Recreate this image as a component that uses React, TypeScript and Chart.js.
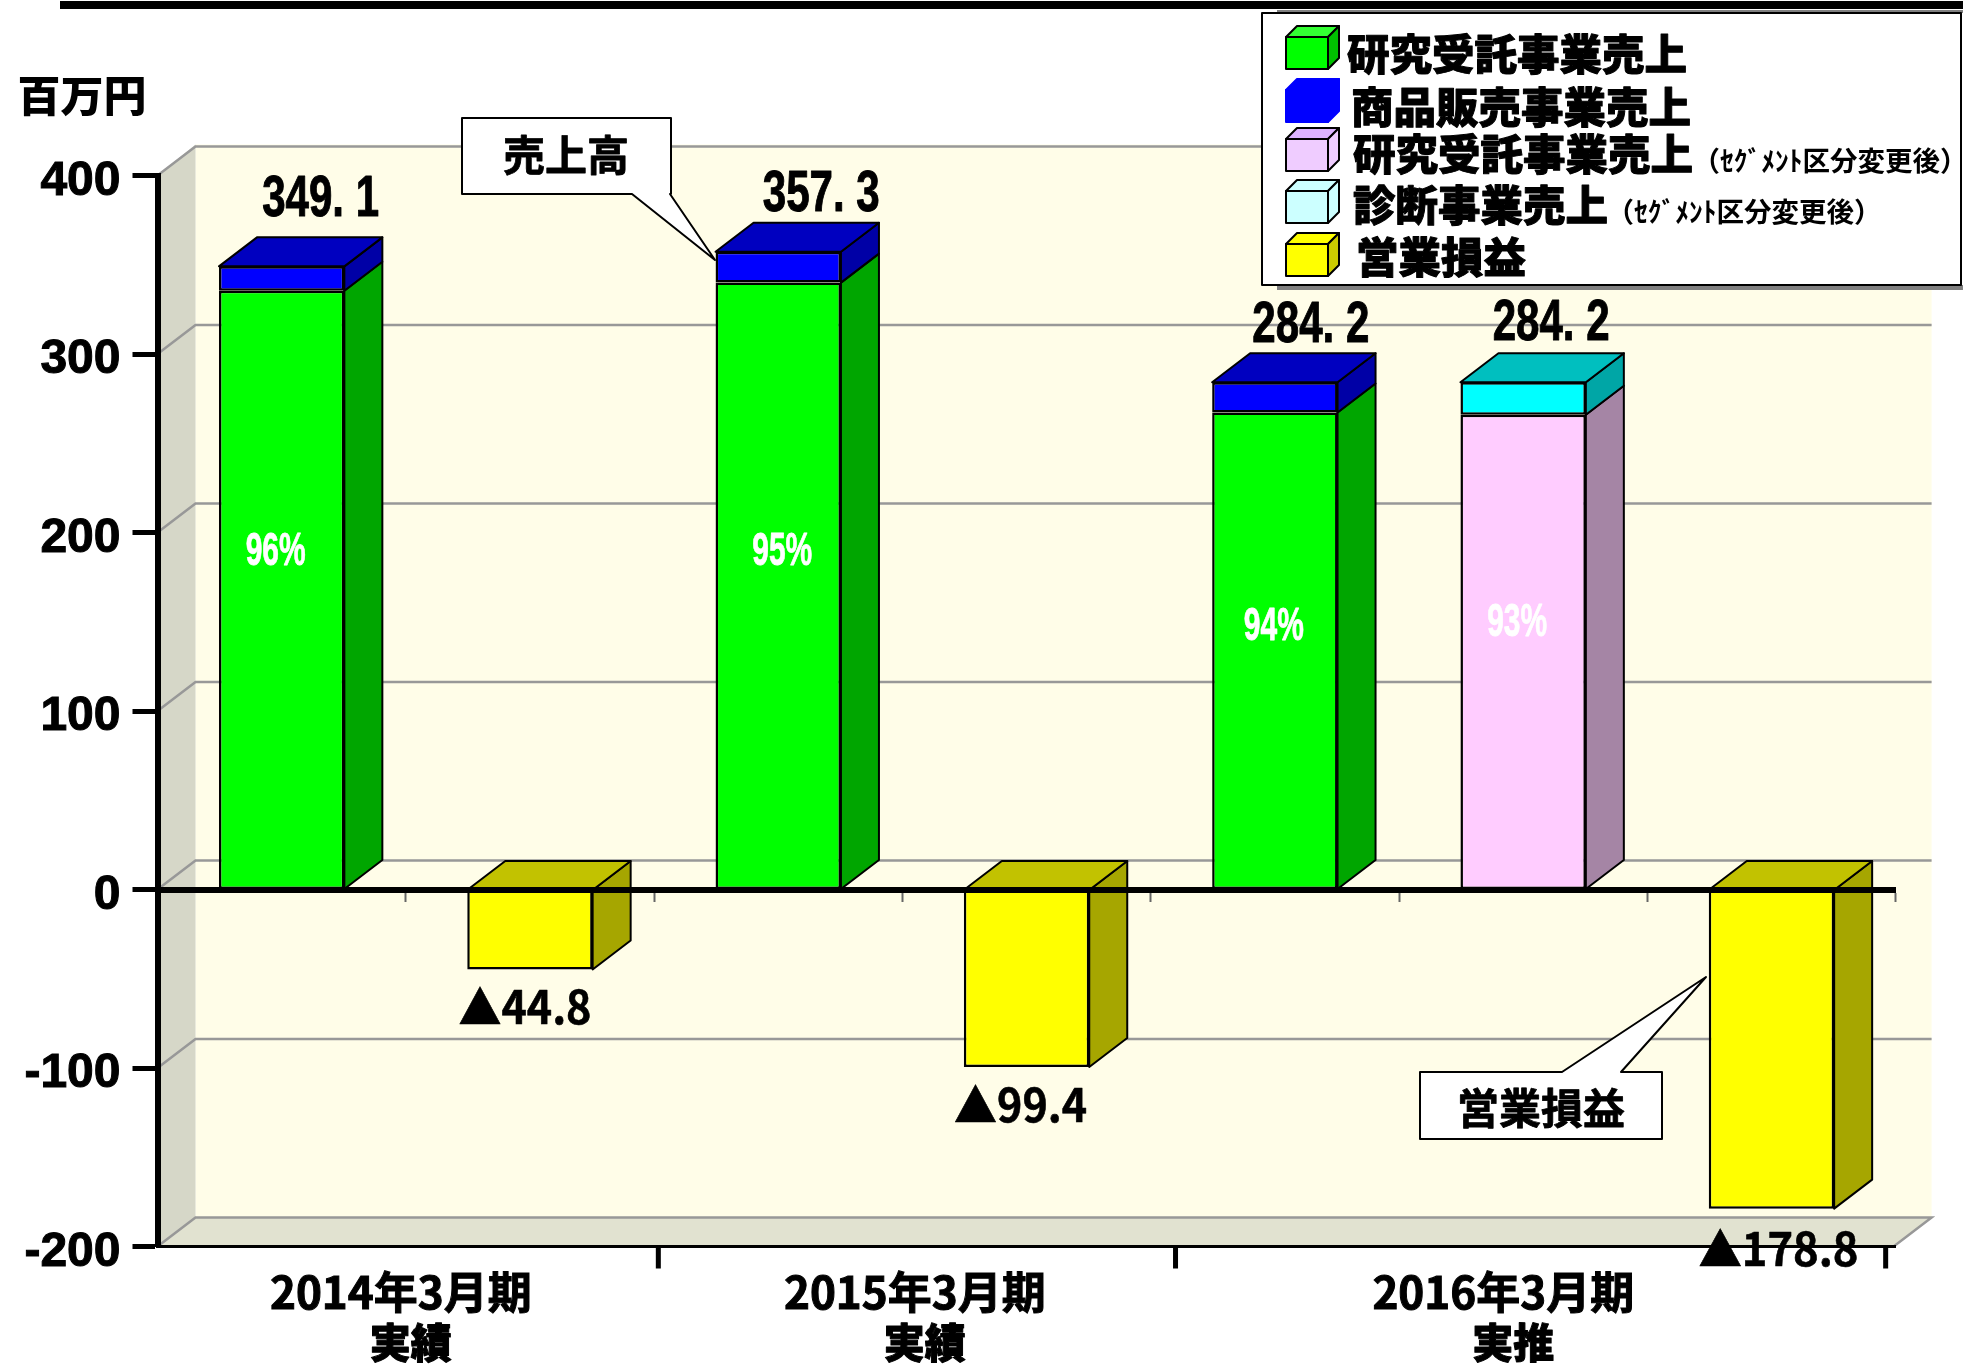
import React, { useEffect, useRef } from "react";
import { Chart, registerables } from "chart.js";

Chart.register(...registerables);

// ---- data ----
const slots = ["2014a", "2014b", "2015a", "2015b", "2016a", "2016b", "2016c"];
const contractSales = [335.4, null, 340.0, null, 267.2, null, null];
const productSales = [13.7, null, 17.3, null, 17.0, null, null];
const contractSalesNew = [null, null, null, null, null, 266.0, null];
const diagnosisSalesNew = [null, null, null, null, null, 18.2, null];
const operatingResult = [null, -44.8, null, -99.4, null, null, -178.8];

const seriesNames = ["研究受託事業売上", "商品販売事業売上", "研究受託事業売上", "診断事業売上", "営業損益"];
const seriesSuffix = ["", "", "（ｾｸﾞﾒﾝﾄ区分変更後）", "（ｾｸﾞﾒﾝﾄ区分変更後）", ""];

const yTicks = [400, 300, 200, 100, 0, -100, -200];

const totalSlots = [0, 2, 4, 5];
const totalValues = [349.1, 357.3, 284.2, 284.2];
const totalNudgeX = [39, 43, 36, 28];
const totalNudgeY = [-66, -56, -56, -58];

const shareSlots = [0, 2, 4, 5];
const shareTexts = ["96%", "95%", "94%", "93%"];
const shareLevels = [189, 189, 147, 149];
const shareNudgeX = [-6, 4, -1, -6];

const lossSlots = [1, 3, 6];
const lossTexts = ["▲44.8", "▲99.4", "▲178.8"];
const lossValues = [-44.8, -99.4, -178.8];
const lossNudgeX = [-5, -6, 7];
const lossNudgeY = [37, 38, 40];
const lossWidths = [133, 133, 160];

const groupYears = ["2014年3月期", "2015年3月期", "2016年3月期"];
const groupKinds = ["実績", "実績", "実推"];
const groupCenters = [0.98, 3.05, 5.42];
const groupEdges = [2.017, 4.1, 6.96];

// ---- styles ----
const DX = 38;
const DY = -29;
const fronts = ["#00FF00", "#0000FF", "#FFCCFF", "#00FFFF", "#FFFF00"];
const sides = ["#00A600", "#0000A6", "#A585A5", "#00A6A6", "#A6A600"];
const tops = ["#00C000", "#0000C0", "#C0A0C0", "#00BFBF", "#C2C200"];
const swatchFront = ["#00FF00", "#0000FF", "#EFCCFF", "#CCFFFF", "#FFFF00"];
const swatchSide = ["#00C000", "#0000FF", "#EFCCFF", "#CCFFFF", "#CCCC00"];
const swatchTop = ["#33FF33", "#0000FF", "#DDB3FF", "#CCFFFF", "#FFFF00"];

const LATIN = '"Liberation Sans", Arial, sans-serif';
const CJK = '"Noto Sans CJK JP", sans-serif';

function poly(ctx: any, pts: number[][], fill: string | null, stroke?: string | null, lw = 2) {
  ctx.beginPath();
  pts.forEach((p, i) => (i ? ctx.lineTo(p[0], p[1]) : ctx.moveTo(p[0], p[1])));
  ctx.closePath();
  if (fill) { ctx.fillStyle = fill; ctx.fill(); }
  if (stroke) { ctx.strokeStyle = stroke; ctx.lineWidth = lw; ctx.lineJoin = "round"; ctx.stroke(); }
}

function txt(ctx: any, s: string, x: number, y: number, font: string, o: any = {}) {
  ctx.font = font;
  ctx.textAlign = o.align || "center";
  ctx.textBaseline = "middle";
  ctx.fillStyle = o.color || "#000";
  if (o.maxWidth) ctx.fillText(s, x, y, o.maxWidth); else ctx.fillText(s, x, y);
  if (o.stroke) {
    ctx.strokeStyle = o.color || "#000";
    ctx.lineWidth = o.stroke;
    ctx.lineJoin = "round";
    if (o.maxWidth) ctx.strokeText(s, x, y, o.maxWidth); else ctx.strokeText(s, x, y);
  }
}

const wallsPlugin = {
  id: "walls",
  afterLayout(chart: any) {
    // the reference's value-axis numbers sit a little below their tick marks
    const y = chart.scales.y;
    y.getLabelItems().forEach((it: any) => { it.options.translation[1] += 6; });
  },
  beforeDraw(chart: any) {
    const { ctx, chartArea: a, scales } = chart;
    const y = scales.y;
    const wr = a.right + DX - 2;
    ctx.save();
    const y0 = y.getPixelForValue(400), y1 = y.getPixelForValue(-200);
    // back wall
    poly(ctx, [[a.left + DX, y0 + DY - 2], [wr, y0 + DY - 2], [wr, y1 + DY], [a.left + DX, y1 + DY]], "#FFFDE8");
    // left wall
    poly(ctx, [[a.left, y0], [a.left + DX, y0 + DY - 2], [a.left + DX, y1 + DY], [a.left, y1]], "#D6D7C8");
    // floor
    poly(ctx, [[a.left, y1], [a.left + DX, y1 + DY], [wr, y1 + DY], [wr - DX, y1]], "#E1E2D0");
    ctx.strokeStyle = "#989898";
    ctx.lineWidth = 2.5;
    yTicks.forEach((t) => {
      const py = y.getPixelForValue(t);
      ctx.beginPath();
      ctx.moveTo(a.left, py);
      ctx.lineTo(a.left + DX, py + DY);
      ctx.lineTo(wr, py + DY);
      if (t === -200) ctx.lineTo(wr - DX, py);
      ctx.stroke();
    });
    ctx.restore();
  },
  beforeDatasetsDraw(chart: any) {
    const { ctx } = chart;
    ctx.save();
    chart.data.datasets.forEach((ds: any, di: number) => {
      const meta = chart.getDatasetMeta(di);
      meta.data.forEach((el: any, i: number) => {
        if (ds.data[i] == null) return;
        const { x, y, base, width } = el.getProps(["x", "y", "base", "width"], true);
        const l = x - width / 2, r = x + width / 2;
        const t = Math.min(y, base), b = Math.max(y, base);
        poly(ctx, [[r, t], [r + DX, t + DY], [r + DX, b + DY], [r, b]], sides[di], "#000", 2);
        const above = chart.data.datasets.slice(di + 1).some((d: any) => d.data[i] != null);
        if (!above) poly(ctx, [[l, t], [l + DX, t + DY], [r + DX, t + DY], [r, t]], tops[di], "#000", 2);
      });
    });
    ctx.restore();
  },
  afterDraw(chart: any) {
    const { ctx, scales } = chart;
    const x = scales.x, y = scales.y, gx = scales.groupAxis;
    ctx.save();

    // rule across the top of the page
    ctx.fillStyle = "#000";
    ctx.fillRect(60, 1, 1903, 8);

    // group separators on the bottom axis
    const bottom = y.getPixelForValue(-200);
    ctx.fillStyle = "#000";
    groupEdges.forEach((e) => ctx.fillRect(gx.getPixelForValue(e) - 2.5, bottom, 5, 22));

    // second line of the group labels
    groupKinds.forEach((s, i) => {
      txt(ctx, s, gx.getPixelForValue(groupCenters[i]) + 10, bottom + 96, `900 41px ${CJK}`, { stroke: 1 });
    });

    // unit
    txt(ctx, "百万円", 82, 96, `900 43px ${CJK}`);

    // totals
    totalValues.forEach((v, i) => {
      const px = x.getPixelForValue(totalSlots[i]) + totalNudgeX[i];
      const py = y.getPixelForValue(v) + totalNudgeY[i];
      txt(ctx, v.toFixed(1).replace(".", ". "), px, py, `bold 57px ${LATIN}`, { maxWidth: 117, stroke: 1 });
    });

    // share of sales
    shareTexts.forEach((s, i) => {
      txt(ctx, s, x.getPixelForValue(shareSlots[i]) + shareNudgeX[i], y.getPixelForValue(shareLevels[i]), `bold 47px ${LATIN}`, { color: "#fff", maxWidth: 60, stroke: 0.8 });
    });

    // operating losses
    lossTexts.forEach((s, i) => {
      const px = x.getPixelForValue(lossSlots[i]) + lossNudgeX[i];
      const py = y.getPixelForValue(lossValues[i]) + lossNudgeY[i];
      txt(ctx, s, px, py, `bold 46px ${CJK}`, { maxWidth: lossWidths[i], stroke: 0.6 });
    });

    // callouts
    poly(ctx, [[462, 118], [671, 118], [671, 194], [670, 194], [715, 260], [632, 194], [462, 194]], "#fff", "#000", 2);
    txt(ctx, "売上高", 566, 155, `bold 42px ${CJK}`, { stroke: 0.8 });
    poly(ctx, [[1420, 1072], [1562, 1072], [1706, 977], [1621, 1072], [1662, 1072], [1662, 1139], [1420, 1139]], "#fff", "#000", 2);
    txt(ctx, "営業損益", 1541, 1108, `bold 42px ${CJK}`, { stroke: 0.8 });

    // legend box
    ctx.fillStyle = "#808080";
    ctx.fillRect(1277, 10, 686, 280);
    ctx.fillStyle = "#fff";
    ctx.fillRect(1262, 13, 701, 272);
    ctx.strokeStyle = "#000";
    ctx.lineWidth = 2;
    ctx.strokeRect(1262, 13, 699, 272);

    const cubeTops = [26, 79, 128, 180, 233];
    const nameX = [1347, 1351, 1353, 1353, 1356];
    const nameY = [54, 107, 154, 205, 257];
    const suffixX = [0, 0, 1830, 1744, 0];
    seriesNames.forEach((name, i) => {
      const t = cubeTops[i];
      const L = 1286, R = 1328, d = 11, ft = t + d, fb = t + 43;
      const line = i === 1 ? "#0000FF" : "#000";
      poly(ctx, [[L, ft], [L + d, t], [R + d, t], [R, ft]], swatchTop[i], line, 2);
      poly(ctx, [[R, ft], [R + d, t], [R + d, fb - d], [R, fb]], swatchSide[i], line, 2);
      poly(ctx, [[L, ft], [R, ft], [R, fb], [L, fb]], swatchFront[i], line, 2);
      txt(ctx, name, nameX[i], nameY[i], `900 42.5px ${CJK}`, { align: "left", stroke: 1 });
      if (seriesSuffix[i]) {
        txt(ctx, seriesSuffix[i], suffixX[i], nameY[i] + 7, `bold 27.5px ${CJK}`);
      }
    });

    ctx.restore();
  },
};

export default function App() {
  const ref = useRef<HTMLCanvasElement | null>(null);
  useEffect(() => {
    if (!ref.current) return;
    const series = [contractSales, productSales, contractSalesNew, diagnosisSalesNew, operatingResult];
    const chart = new Chart(ref.current, {
      type: "bar",
      data: {
        labels: slots,
        datasets: series.map((data, i) => ({
          label: seriesNames[i],
          data,
          backgroundColor: fronts[i],
          borderColor: "#000",
          borderWidth: 2.5,
          borderSkipped: false,
          categoryPercentage: 1,
          barPercentage: 0.505,
        })),
      },
      options: {
        responsive: false,
        animation: false,
        layout: { padding: { top: 175.5, right: 67.4, left: 0, bottom: 0 } },
        plugins: { legend: { display: false }, tooltip: { enabled: false }, title: { display: false } },
        scales: {
          x: {
            type: "category",
            stacked: true,
            position: { y: 0 },
            offset: true,
            ticks: { display: false },
            grid: { drawOnChartArea: false, offset: true, tickLength: 9, tickWidth: 2, tickColor: "#666" },
            border: { display: true, color: "#000", width: 6, z: 1 },
          },
          groupAxis: {
            type: "linear",
            position: "bottom",
            min: 0,
            max: 7,
            offset: false,
            afterBuildTicks(s: any) { s.ticks = groupCenters.map((value) => ({ value })); },
            afterFit(s: any) { s.height = 117.5; s.paddingLeft = 0; s.paddingRight = 0; },
            ticks: {
              autoSkip: false,
              maxRotation: 0,
              padding: 20,
              color: "#000",
              textStrokeColor: "#000",
              textStrokeWidth: 1,
              font: { family: '"Noto Sans CJK JP", sans-serif', size: 44, weight: "bold", lineHeight: 51 / 44 },
              callback: (_v: any, i: number) => groupYears[i],
            },
            grid: { display: false, drawTicks: false, offset: false },
            border: { display: true, color: "#000", width: 3, z: 1 },
          },
          y: {
            stacked: true,
            min: -200,
            max: 400,
            afterBuildTicks(s: any) { s.ticks = yTicks.map((value) => ({ value })); },
            afterFit(s: any) { s.width = 157.5; },
            ticks: {
              padding: 12,
              color: "#000",
              textStrokeColor: "#000",
              textStrokeWidth: 1,
              font: { family: '"Liberation Sans", Arial, sans-serif', size: 48, weight: "bold" },
              callback: (v: any) => String(v),
            },
            grid: { drawOnChartArea: false, tickLength: 25, tickWidth: 5, tickColor: "#000" },
            border: { display: true, color: "#000", width: 6, z: 1 },
          },
        },
      } as any,
      plugins: [wallsPlugin],
    });
    return () => chart.destroy();
  }, []);
  return (
    <canvas
      ref={ref}
      width={1963}
      height={1364}
      style={{ position: "fixed", left: 0, top: 0, display: "block", width: 1963, height: 1364 }}
    />
  );
}
